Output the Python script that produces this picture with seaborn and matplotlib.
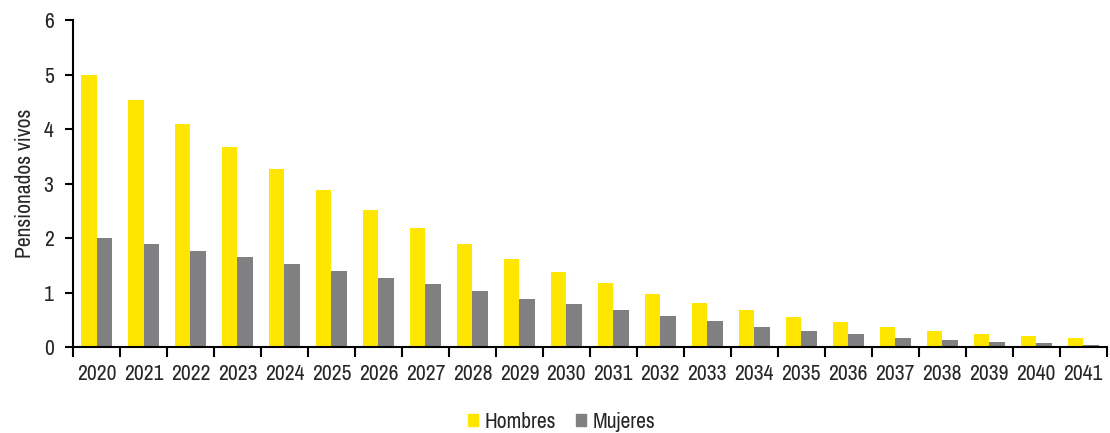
import pandas as pd
import numpy as np
import matplotlib
matplotlib.use("Agg")
import matplotlib.pyplot as plt
import seaborn as sns

years = [str(y) for y in range(2020, 2042)]
hombres = [5.00, 4.54, 4.09, 3.67, 3.26, 2.88, 2.52, 2.19, 1.89, 1.61, 1.38,
           1.17, 0.98, 0.815, 0.67, 0.55, 0.45, 0.37, 0.30, 0.245, 0.195, 0.16]
mujeres = [2.00, 1.89, 1.77, 1.65, 1.52, 1.40, 1.27, 1.15, 1.02, 0.89, 0.78,
           0.67, 0.56, 0.47, 0.37, 0.29, 0.23, 0.17, 0.13, 0.10, 0.065, 0.04]
series = ["Hombres", "Mujeres"]
colors = ["#FFE600", "#808083"]

df = pd.DataFrame({
    "year": years * 2,
    "value": hombres + mujeres,
    "sexo": [series[0]] * len(years) + [series[1]] * len(years),
})

sns.set_style("white")
plt.rcParams["font.family"] = ["Archivo Narrow", "Liberation Sans", "DejaVu Sans"]
fs = 15.5

fig = plt.figure(figsize=(11.1, 4.33), dpi=100)
ax = fig.add_axes([0.0658, 0.1986, 0.9312, 0.7552])

sns.barplot(data=df, x="year", y="value", hue="sexo", palette=colors,
            width=0.66, gap=0, linewidth=0, saturation=1, ax=ax, legend=True)

ax.set_xlim(-0.5, len(years) - 0.5)
ax.set_ylim(0, 6)
ax.set_yticks(range(0, 7))

# ticks between categories, labels centred under each group
ax.set_xticks(np.arange(-0.5, len(years), 1.0))
ax.set_xticklabels([])
ax.set_xticks(range(len(years)), minor=True)
ax.set_xticklabels(years, minor=True)
ax.tick_params(axis="x", which="major", length=7, width=1.5, direction="out",
               bottom=True, color="black")
ax.tick_params(axis="x", which="minor", length=0, pad=12, labelsize=fs)
ax.tick_params(axis="y", length=6, width=1.5, direction="out", left=True,
               labelsize=fs, color="black", pad=8)

ax.set_xlabel("")
ax.set_ylabel("Pensionados vivos", fontsize=fs, labelpad=6)

for side in ["top", "right"]:
    ax.spines[side].set_visible(False)
for side in ["left", "bottom"]:
    ax.spines[side].set_color("black")
    ax.spines[side].set_linewidth(1.5)

ax.legend_.remove()
handles = [plt.Rectangle((0, 0), 1, 1, color=c) for c in colors]
fig.legend(handles, series, loc="center", bbox_to_anchor=(0.506, 0.026),
           ncol=2, frameon=False, fontsize=fs, handlelength=0.5,
           handleheight=0.5, handletextpad=0.3, columnspacing=0.9)

plt.savefig("out.png", dpi=100)
